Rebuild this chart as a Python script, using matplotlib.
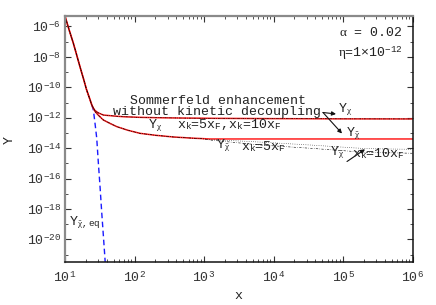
import numpy as np
import matplotlib
matplotlib.use("Agg")
import matplotlib.pyplot as plt

plt.rcParams['font.family'] = ['Liberation Mono', 'DejaVu Sans']
plt.rcParams['mathtext.fontset'] = 'custom'
plt.rcParams['mathtext.rm'] = 'Liberation Mono'
plt.rcParams['mathtext.it'] = 'Liberation Serif'
plt.rcParams['mathtext.bf'] = 'Liberation Mono:bold'

# ---- data ----
# common part (all curves coincide before freeze-out)
x_common = [10, 11.5, 13.2, 14.8, 16.4, 18.4, 20.5, 22.5, 24.3, 25.6]
Y_common = [4.8e-6, 5.7e-7, 7.8e-8, 1.23e-8, 2.3e-9, 3.8e-10, 6.6e-11, 1.95e-11, 6.9e-12, 4.2e-12]

# equilibrium abundance of the anti-particle (blue dashed)
x_eq = [24.3, 25.6, 27.0, 28.6, 30.2, 32.0, 33.8, 35.7, 37.7, 39.0]
Y_eq = [6.9e-12, 3.2e-12, 4.5e-13, 4.6e-14, 1.05e-15, 2.5e-17, 5.4e-19, 1.6e-20, 4.4e-22, 3e-23]

# Sommerfeld, no kinetic decoupling: particle (upper) and anti-particle (lower)
x_up = [25.6, 27, 30, 35.6, 50, 69, 120, 209, 500, 1550, 1e4, 1e5, 1e6]
Y_up = [4.2e-12, 3.0e-12, 2.1e-12, 1.5e-12, 1.3e-12, 1.16e-12, 1.06e-12, 1.0e-12,
        9.5e-13, 9.1e-13, 8.7e-13, 8.4e-13, 8.3e-13]
x_lo = [25.6, 27, 30, 35.6, 45, 55.5, 80, 120, 200, 363, 700, 881, 1228, 1e4, 1e6]
Y_lo = [4.2e-12, 2.6e-12, 1.5e-12, 7.1e-13, 4.1e-13, 2.6e-13, 1.5e-13, 9.4e-14,
        7.0e-14, 5.4e-14, 4.5e-14, 4.3e-14, 4.0e-14, 4.0e-14, 4.0e-14]

# with kinetic decoupling, anti-particle, beyond x ~ 900
x_kd = [881, 1228, 6460, 33900, 209000, 1e6]
Y_kd10 = [4.3e-14, 3.7e-14, 2.5e-14, 1.6e-14, 9.3e-15, 8.3e-15]
Y_kd5 = [4.3e-14, 3.4e-14, 1.6e-14, 9.8e-15, 5.3e-15, 4.6e-15]

W, H = 436, 305
fig = plt.figure(figsize=(W / 100, H / 100), dpi=100)
ax = fig.add_axes([65 / W, 1 - 262 / H, 347.5 / W, 246 / H])

x_lo_early = [v for v in x_lo if v <= 881]
Y_lo_early = Y_lo[:len(x_lo_early)]

dot = (0, (1, 2.5))
dashdot = (0, (4, 2.5, 1, 2.5))

ax.plot(x_eq, Y_eq, color='#1a1aff', lw=1.0, dashes=(4, 2.5))
ax.plot(x_common + x_up[1:], Y_common + Y_up[1:], color='#ff2020', lw=1.1)
ax.plot(x_common + x_lo[1:], Y_common + Y_lo[1:], color='#ff2020', lw=1.1)
ax.plot(x_common + x_up[1:], Y_common + Y_up[1:], color='black', lw=0.4, ls=dot)
ax.plot(x_common + x_up[1:], Y_common + Y_up[1:], color='black', lw=0.35, ls=dashdot)
ax.plot(x_common + x_lo_early[1:] + x_kd[1:], Y_common + Y_lo_early[1:] + Y_kd10[1:],
        color='black', lw=0.45, ls=dot)
ax.plot(x_common + x_lo_early[1:] + x_kd[1:], Y_common + Y_lo_early[1:] + Y_kd5[1:],
        color='black', lw=0.4, ls=dashdot)

ax.set_xscale('log')
ax.set_yscale('log')
ax.set_xlim(10, 1e6)
ax.set_ylim(10 ** -21.49, 10 ** -5.31)
ax.set_yticks([10.0 ** k for k in range(-20, -5, 2)])
ax.set_yticks([10.0 ** k for k in range(-21, -5, 2)], minor=True)
ax.yaxis.set_minor_formatter(matplotlib.ticker.NullFormatter())
ax.xaxis.set_minor_formatter(matplotlib.ticker.NullFormatter())

powfmt = matplotlib.ticker.FuncFormatter(
    lambda v, pos: '10$^{\\mathregular{%d}}$' % int(round(np.log10(v))))
ax.xaxis.set_major_formatter(powfmt)
ax.yaxis.set_major_formatter(powfmt)

ax.tick_params(which='both', direction='in', top=True, right=True,
               labelsize=9.5, labelcolor='#333333', color='#333333')
ax.tick_params(which='major', length=4, width=0.8)
ax.tick_params(which='minor', length=2.5, width=0.6)
ax.tick_params(axis='y', pad=3)
ax.tick_params(axis='x', pad=6)

for side in ['top', 'left']:
    ax.spines[side].set_color('#8a8a8a')
    ax.spines[side].set_linewidth(1.6)
for side in ['bottom', 'right']:
    ax.spines[side].set_color('#111111')
    ax.spines[side].set_linewidth(1.1)


def ftxt(px, py, s, **kw):
    kw.setdefault('fontsize', 9.5)
    kw.setdefault('color', '#222222')
    fig.text(px / W, 1 - py / H, s, **kw)


ftxt(238, 296, 'x', ha='center', va='center')
ftxt(10, 140, 'Y', ha='center', va='center', rotation=90)

ftxt(218, 104.5, 'Sommerfeld enhancement', ha='center', va='baseline')
ftxt(217, 115, 'without kinetic decoupling', ha='center', va='baseline')
ftxt(148, 128, r'Y$_\chi$', ha='left', va='baseline')
ftxt(177, 127.5, r'x$_\mathregular{k}$=5x$_\mathregular{F}$,x$_\mathregular{k}$=10x$_\mathregular{F}$',
     ha='left', va='baseline')
ftxt(216, 148, r'Y$_\bar{\chi}$', ha='left', va='baseline')
ftxt(241, 150.5, r'x$_\mathregular{k}$=5x$_\mathregular{F}$', ha='left', va='baseline')
ftxt(330, 155, r'Y$_\bar{\chi}$', ha='left', va='baseline')
ftxt(352, 157, r'x$_\mathregular{k}$=10x$_\mathregular{F}$', ha='left', va='baseline')
ftxt(338, 112, r'Y$_\chi$', ha='left', va='baseline')
ftxt(346, 136, r'Y$_\bar{\chi}$', ha='left', va='baseline')
ftxt(69, 225, r'Y$_{\bar{\chi},\mathregular{eq}}$', ha='left', va='baseline')
ftxt(403, 36.5, r'$\alpha$ = 0.02', ha='right', va='baseline')
ftxt(403, 57, r'$\eta$=1×10$^\mathregular{-12}$', ha='right', va='baseline')

arrow = dict(arrowstyle='-|>', color='#111111', lw=0.8, mutation_scale=6,
             shrinkA=0, shrinkB=0)
for tail, head in [((323, 112.5), (336, 114)), ((323, 112.5), (342, 133.5)),
                   ((347, 161.5), (365, 149.3))]:
    ax.annotate('', xy=(head[0] / W, 1 - head[1] / H), xycoords='figure fraction',
                xytext=(tail[0] / W, 1 - tail[1] / H), textcoords='figure fraction',
                arrowprops=arrow)

fig.savefig('out.png', dpi=100)
